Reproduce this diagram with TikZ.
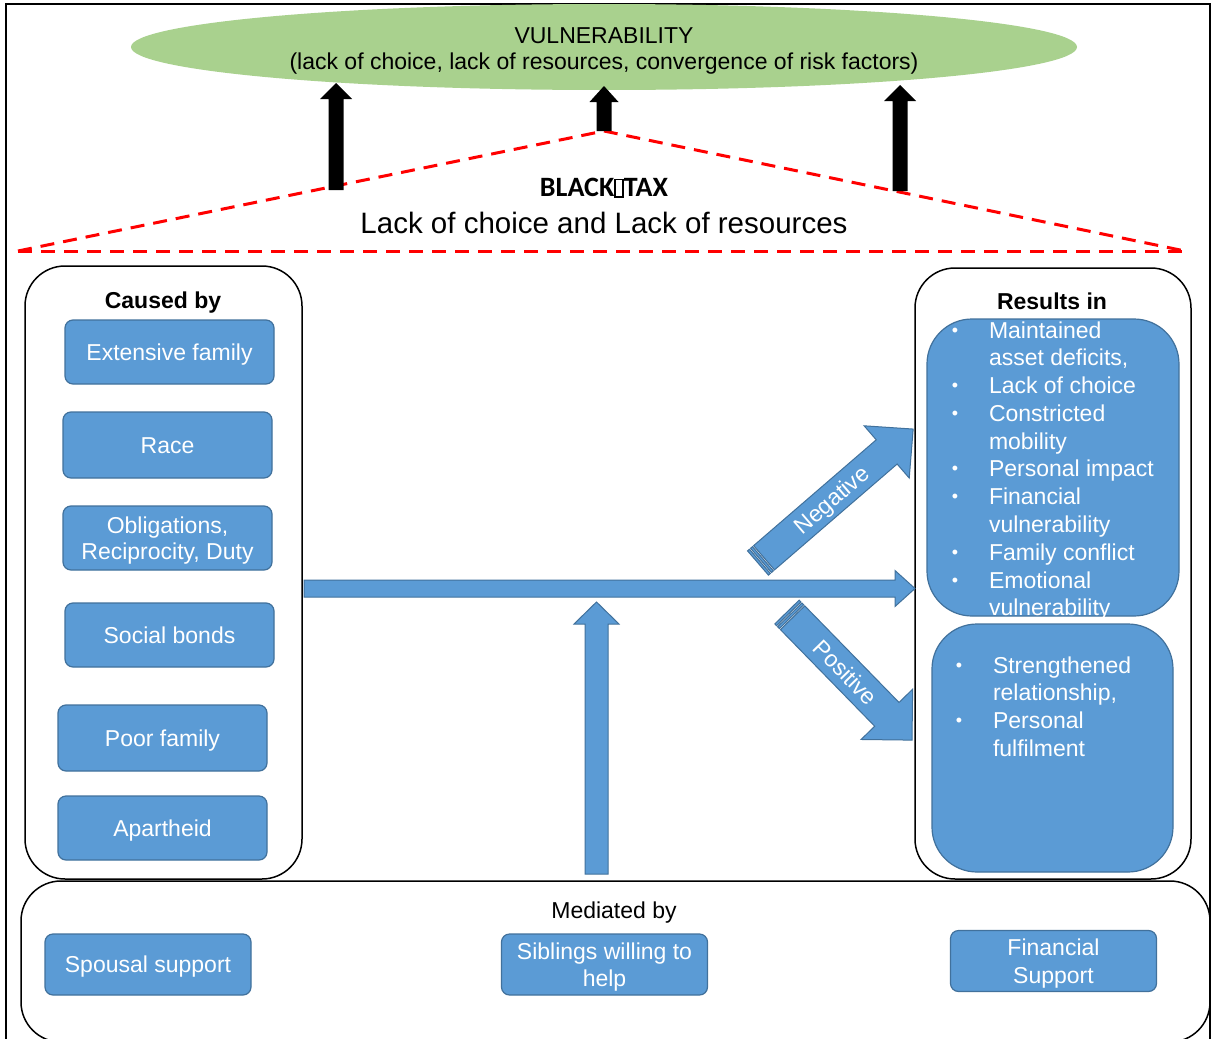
\documentclass[tikz,border=0pt]{standalone}
\usepackage{fontspec}
\setmainfont{Liberation Sans}
\newfontfamily\calibfont{Carlito}
\usetikzlibrary{shapes.geometric}
\definecolor{vgreen}{HTML}{A9D18E}
\definecolor{bfill}{HTML}{5B9BD5}
\definecolor{bline}{HTML}{41719C}
\definecolor{dred}{HTML}{FF0000}
\newcommand\txtsize{\fontsize{23}{27.7}\selectfont}
\newcommand\gapglyph{{\setlength\fboxsep{0pt}\setlength\fboxrule{1.6pt}\fbox{\rule{0pt}{16pt}\hspace{6.5pt}}}}

\begin{document}
\begin{tikzpicture}[x=1pt,y=-1pt,
  every node/.style={inner sep=0pt, outer sep=0pt},
  lbl/.style={font=\txtsize, text height=16.5pt, text depth=0pt},
  boldlbl/.style={lbl, font=\txtsize\bfseries},
  wtext/.style={lbl, text=white},
  bluebox/.style={draw=bline, fill=bfill, line width=1.2pt, rounded corners=8pt,
    wtext, minimum width=209pt, minimum height=64pt},
  lowbox/.style={bluebox, minimum width=206pt, minimum height=61pt},
  panel/.style={draw=black, line width=1.5pt, rounded corners=40pt},
  bigbox/.style={draw=bline, fill=bfill, line width=1.2pt, rounded corners=45pt},
  arrowfill/.style={fill=bfill, draw=bline, line width=1pt, line join=miter},
  reddash/.style={draw=dred, line width=3pt, dash pattern=on 14pt off 9pt},
  bulletline/.style={text=white, font=\txtsize, anchor=base west},
  bulletmark/.style={text=white, font=\fontsize{18}{18}\selectfont, anchor=base},
  % upward solid black block arrow: length, shaft half width, head half width, head length
  pics/uparr/.style n args={4}{code={
    \fill[black] (-#2,0) -- (-#2,-#1+#4) -- (-#3,-#1+#4) -- (0,-#1)
      -- (#3,-#1+#4) -- (#2,-#1+#4) -- (#2,0) -- cycle;}},
  % blue block arrow along local x
  pics/blockarr/.style n args={4}{code={
    \path[arrowfill] (0,-#2) -- (#1-#4,-#2) -- (#1-#4,-#3) -- (#1,0)
      -- (#1-#4,#3) -- (#1-#4,#2) -- (0,#2) -- cycle;}},
  % blue block arrow with a striped tail
  pics/stripearr/.style n args={4}{code={
    \path[arrowfill] (0,-#2) rectangle (2.5,#2);
    \path[arrowfill] (4,-#2) rectangle (6.5,#2);
    \path[arrowfill] (8,-#2) -- (#1-#4,-#2) -- (#1-#4,-#3) -- (#1,0)
      -- (#1-#4,#3) -- (#1-#4,#2) -- (8,#2) -- cycle;}}
]
\path[use as bounding box] (0,0) rectangle (1211,1039);
\clip (0,0) rectangle (1211,1039);
\fill[white] (0,0) rectangle (1211,1039);

% outer frame
\draw[line width=1.5pt] (6,4) rectangle (1210,1100);

% vulnerability ellipse
\node[ellipse, fill=vgreen, minimum width=946pt, minimum height=86pt] (vul) at (604,47) {};
\node[lbl] (vt1) at (604,35) {VULNERABILITY};
\node[lbl] (vt2) at (604,61) {(lack of choice, lack of resources, convergence of risk factors)};

% black tax triangle
\coordinate (apex) at (604,131);
\coordinate (lb) at (18,251);
\coordinate (rb) at (1185,251);
\draw[reddash] (lb) -- (apex) -- (rb);
\draw[reddash] (lb) -- (rb);

% arrows up to the ellipse
\pic at (336,190) {uparr={107}{7.5}{16}{16}};
\pic at (apex) {uparr={45}{7.5}{14.5}{16}};
\pic at (900,191) {uparr={106}{7.5}{16}{16}};

\node[font=\calibfont\bfseries\fontsize{28}{32}\selectfont, text height=18.5pt, text depth=0pt]
  (bt) at (604,187) {BLACK\gapglyph TAX};
\node[font=\fontsize{29.5}{34}\selectfont, text height=21pt, text depth=0pt]
  (lc) at (604,223) {Lack of choice and Lack of resources};

% causes panel
\node[panel, minimum width=277pt, minimum height=613pt] (causes) at (163.5,572.5) {};
\node[boldlbl] (causet) at (163,300) {Caused by};
\node[bluebox] (ext) at (169.5,352) {Extensive family};
\node[bluebox, minimum height=66pt] (race) at (167.5,445) {Race};
\node[bluebox] (obl) at (167.5,538) {};
\node[wtext] (obl1) at (167.5,525) {Obligations,};
\node[wtext] (obl2) at (167.5,551) {Reciprocity, Duty};
\node[bluebox] (soc) at (169.5,635) {Social bonds};
\node[bluebox, minimum height=66pt] (poor) at (162.5,738) {Poor family};
\node[bluebox] (apart) at (162.5,828) {Apartheid};

% results panel
\node[panel, minimum width=276pt, minimum height=611pt] (results) at (1053,573.5) {};
\node[boldlbl] (rest) at (1052,301) {Results in};
\node[bigbox, minimum width=252pt, minimum height=297pt] (neg) at (1053,467.5) {};
\node[bigbox, minimum width=241pt, minimum height=248pt] (pos) at (1052.5,748) {};

\node[bulletmark] (nb1) at (955,336.5) {\textbullet};
\node[bulletline] (n1a) at (989,338.25) {Maintained};
\node[bulletline] (n1b) at (989,365.25) {asset deficits,};
\node[bulletmark] (nb2) at (955,391.5) {\textbullet};
\node[bulletline] (n2) at (989,393.25) {Lack of choice};
\node[bulletmark] (nb3) at (955,419.5) {\textbullet};
\node[bulletline] (n3a) at (989,421.25) {Constricted};
\node[bulletline] (n3b) at (989,449.25) {mobility};
\node[bulletmark] (nb4) at (955,474.5) {\textbullet};
\node[bulletline] (n4) at (989,476.25) {Personal impact};
\node[bulletmark] (nb5) at (955,502.5) {\textbullet};
\node[bulletline] (n5a) at (989,504.25) {Financial};
\node[bulletline] (n5b) at (989,532.25) {vulnerability};
\node[bulletmark] (nb6) at (955,558.5) {\textbullet};
\node[bulletline] (n6) at (989,560.25) {Family conflict};
\node[bulletmark] (nb7) at (955,586.5) {\textbullet};
\node[bulletline] (n7a) at (989,588.25) {Emotional};
\node[bulletline] (n7b) at (989,615.25) {vulnerability};

\node[bulletmark] (pb1) at (959,671.5) {\textbullet};
\node[bulletline] (p1a) at (993,673.25) {Strengthened};
\node[bulletline] (p1b) at (993,700.25) {relationship,};
\node[bulletmark] (pb2) at (959,726.5) {\textbullet};
\node[bulletline] (p2a) at (993,728.25) {Personal};
\node[bulletline] (p2b) at (993,756.25) {fulfilment};

% mediators panel
\node[panel, minimum width=1189pt, minimum height=161pt] (med) at (615.5,961.5) {};
\node[lbl] (medt) at (614,910) {Mediated by};
\node[lowbox] (spouse) at (148,964.5) {Spousal support};
\node[lowbox] (sib) at (604.5,964.5) {};
\node[wtext] (sib1) at (604.5,951) {Siblings willing to};
\node[wtext] (sib2) at (604.5,978) {help};
\node[lowbox] (fin) at (1053.5,961) {};
\node[wtext] (fin1) at (1053.5,947) {Financial};
\node[wtext] (fin2) at (1053.5,975) {Support};

% block arrows between the panels
\pic at (304,588.5) {blockarr={611}{8.5}{18}{20}};
\pic[rotate=90] at (596.5,874) {blockarr={272}{11.5}{22.5}{22}};
\pic[rotate=40.8] at (758,563) {stripearr={205}{16}{34.5}{35}};
\pic[rotate=-45.7] at (787,612) {stripearr={179}{17}{36}{36}};
\node[wtext, rotate=40.8] (negt) at (831.4,499.6) {Negative};
\node[wtext, rotate=-45.7] (post) at (845.7,672.1) {Positive};
\end{tikzpicture}
\end{document}
